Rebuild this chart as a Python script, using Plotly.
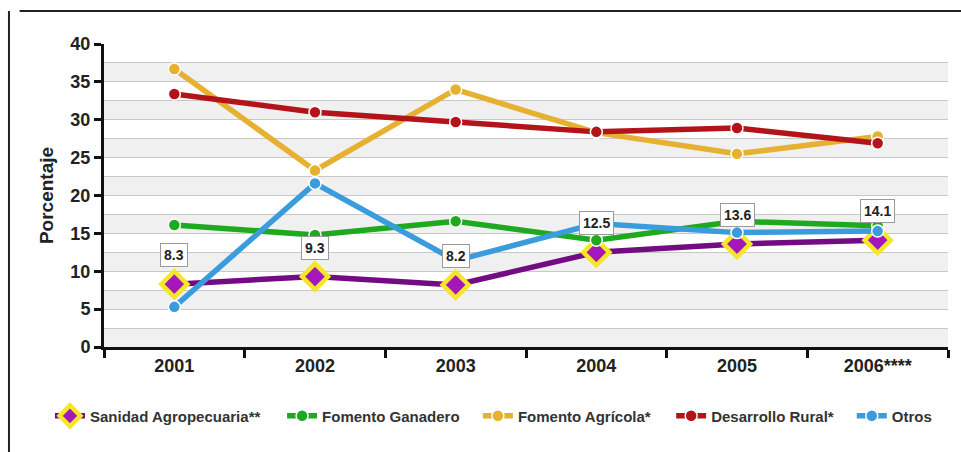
import plotly.graph_objects as go

years = ["2001", "2002", "2003", "2004", "2005", "2006****"]

sanidad = [8.3, 9.3, 8.2, 12.5, 13.6, 14.1]
ganadero = [16.1, 14.8, 16.6, 14.1, 16.6, 16.0]
agricola = [36.7, 23.3, 34.0, 28.3, 25.5, 27.8]
rural = [33.4, 31.0, 29.7, 28.4, 28.9, 26.9]
otros = [5.3, 21.6, 11.4, 16.3, 15.1, 15.3]

y_ticks = [0, 5, 10, 15, 20, 25, 30, 35, 40]

FONT = "Liberation Sans, Arial, sans-serif"

fig = go.Figure()

# each series gets its own legend box so the entries can be spaced freely
legend_x = [-0.064, 0.211, 0.443, 0.672, 0.886]


def add_series(idx, name, values, color):
    fig.add_trace(go.Scatter(
        x=years, y=values, name=name, mode="lines+markers",
        legend="legend" if idx == 0 else f"legend{idx + 1}",
        line=dict(color=color, width=5.5),
        marker=dict(symbol="circle", size=12, color=color,
                    line=dict(color="white", width=1.5)),
    ))


fig.add_trace(go.Scatter(
    x=years, y=sanidad, name="Sanidad Agropecuaria**", mode="lines+markers",
    legend="legend",
    line=dict(color="#730C82", width=5.5),
    marker=dict(symbol="diamond", size=20, color="#A417B8",
                line=dict(color="#F5E62A", width=4.5)),
))
add_series(1, "Fomento Ganadero", ganadero, "#1FA91F")
add_series(2, "Fomento Agrícola*", agricola, "#E6B030")
add_series(3, "Desarrollo Rural*", rural, "#B3141A")
add_series(4, "Otros", otros, "#3A9CDC")

# value boxes above the Sanidad Agropecuaria points
for i, v in enumerate(sanidad):
    fig.add_annotation(
        x=i, y=v, xref="x", yref="y", text=f"<b>{v}</b>", showarrow=False,
        yshift=29,
        font=dict(family=FONT, size=14, color="#222"),
        bgcolor="white", bordercolor="#9a9a9a", borderwidth=1, borderpad=3,
    )

# alternating horizontal bands
shapes = []
for k in range(8):
    lo = 5 * k
    shapes.append(dict(type="rect", xref="paper", yref="y", x0=0, x1=1,
                       y0=lo, y1=lo + 2.5, fillcolor="#F0F0F0",
                       line=dict(width=0), layer="below"))
# frame lines
shapes.append(dict(type="line", xref="paper", yref="paper",
                   x0=-0.1, x1=1.1, y0=1.109, y1=1.109,
                   line=dict(color="#222", width=2)))
shapes.append(dict(type="line", xref="paper", yref="paper",
                   x0=-0.1126, x1=-0.1126, y0=1.109, y1=-0.4,
                   line=dict(color="#222", width=2)))

legend_font = dict(family=FONT, size=15, color="#333", weight="bold")
legends = {}
for i, lx in enumerate(legend_x):
    key = "legend" if i == 0 else f"legend{i + 1}"
    legends[key] = dict(orientation="h", x=lx, xanchor="left", y=-0.228,
                        yanchor="middle", font=legend_font,
                        bgcolor="rgba(0,0,0,0)", itemwidth=30)

fig.update_layout(
    width=961, height=452,
    margin=dict(l=104, r=13, t=44, b=105),
    paper_bgcolor="white", plot_bgcolor="white",
    shapes=shapes,
    showlegend=True,
    xaxis=dict(type="category", range=[-0.5, 5.5], tickson="boundaries",
               ticks="outside", ticklen=8, tickwidth=3, tickcolor="#111",
               showline=True, linecolor="#111", linewidth=3,
               showgrid=False, zeroline=False,
               tickfont=dict(family=FONT, size=18, color="#222", weight="bold")),
    yaxis=dict(range=[0, 40], tickvals=y_ticks, ticks="outside", ticklen=7,
               tickwidth=3, tickcolor="#111",
               showline=True, linecolor="#111", linewidth=3,
               showgrid=True, gridcolor="#C8C8C8", gridwidth=1,
               zeroline=False,
               minor=dict(dtick=2.5, showgrid=True, gridcolor="#C8C8C8",
                          gridwidth=1),
               tickfont=dict(family=FONT, size=18, color="#222", weight="bold"),
               title=dict(text="Porcentaje", standoff=12,
                          font=dict(family=FONT, size=19, color="#222",
                                    weight="bold"))),
    **legends,
)

fig.write_html("out.html")
